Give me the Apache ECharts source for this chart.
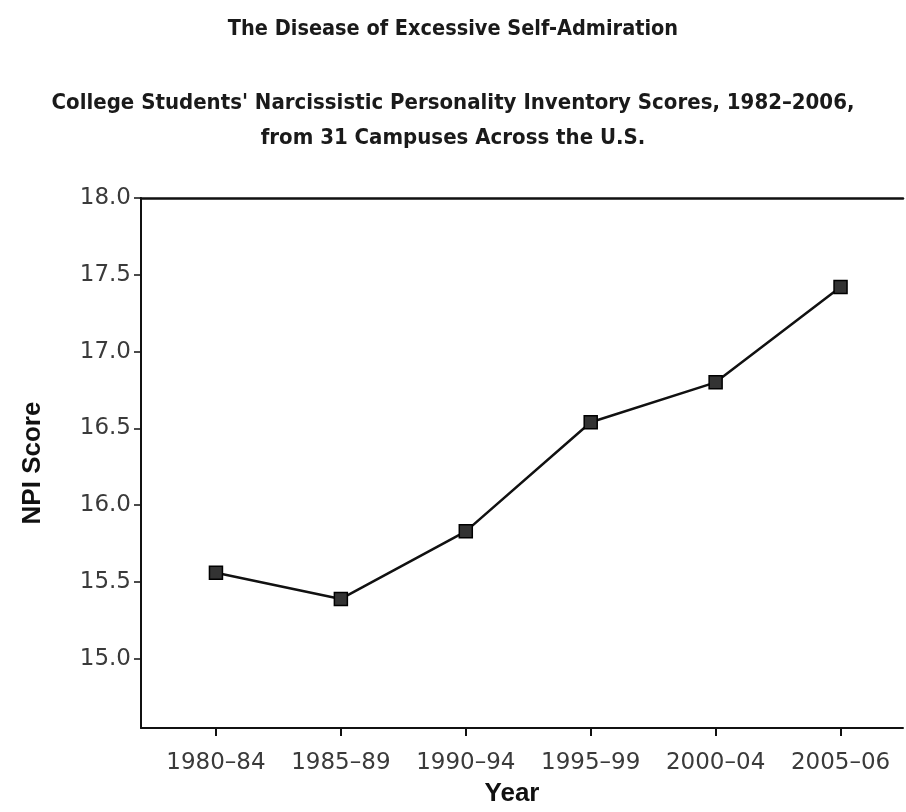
<!DOCTYPE html>
<html>
<head>
<meta charset="utf-8">
<script src="https://cdn.jsdelivr.net/npm/echarts@6/dist/echarts.min.js"></script>
<style>
html,body{margin:0;padding:0;background:#fff;}
#chart{width:906px;height:812px;}
</style>
</head>
<body>
<div id="chart"></div>
<script>
var categories = ['1980\u201384', '1985\u201389', '1990\u201394', '1995\u201399', '2000\u201304', '2005\u201306'];
var npiScores = [15.56, 15.39, 15.83, 16.54, 16.80, 17.42];
var yTickValues = [15.0, 15.5, 16.0, 16.5, 17.0, 17.5, 18.0];
var xTickValues = [0, 1, 2, 3, 4, 5];
var titleText = 'The Disease of Excessive Self-Admiration';
var subtitleLines = ["College Students' Narcissistic Personality Inventory Scores, 1982\u20132006,", 'from 31 Campuses Across the U.S.'];

var titleFont = '"Liberation Sans Narrow", "DejaVu Sans Condensed", "Roboto Condensed", "Liberation Sans", sans-serif';
var tickFont = '"DejaVu Sans", sans-serif';

var chart = echarts.init(document.getElementById('chart'), null, {renderer: 'canvas'});
var seriesData = npiScores.map(function (v, i) { return [i, v]; });

chart.setOption({
  backgroundColor: '#ffffff',
  animation: false,
  title: [
    {
      text: titleText,
      left: 'center', top: 13,
      textStyle: {fontFamily: titleFont, fontWeight: 'bold', fontSize: 21.5, color: '#1a1a1a'}
    },
    {
      text: subtitleLines[0],
      left: 'center', top: 87,
      textStyle: {fontFamily: titleFont, fontWeight: 'bold', fontSize: 22, color: '#1a1a1a'}
    },
    {
      text: subtitleLines[1],
      left: 'center', top: 122,
      textStyle: {fontFamily: titleFont, fontWeight: 'bold', fontSize: 22, color: '#1a1a1a'}
    }
  ],
  grid: {left: 141, top: 198, right: 3, bottom: 79, containLabel: false},
  xAxis: [
    {
      type: 'value', min: -0.6, max: 5.5,
      name: 'Year', nameLocation: 'middle', nameGap: 53,
      nameTextStyle: {fontFamily: '"Liberation Sans", Arial, sans-serif', fontWeight: 'bold', fontSize: 26, color: '#111', padding: [0, 20, 0, 0]},
      axisLine: {show: true, onZero: false, lineStyle: {color: '#111', width: 2}},
      axisTick: {show: true, length: 8, customValues: xTickValues, lineStyle: {color: '#111', width: 2}},
      axisLabel: {
        customValues: xTickValues, margin: 24,
        fontFamily: tickFont, fontSize: 23, color: '#3a3a3a',
        formatter: function (v) { return categories[Math.round(v)]; }
      },
      splitLine: {show: false}
    },
    {
      type: 'value', min: -0.6, max: 5.5, position: 'top',
      axisLine: {show: true, onZero: false, lineStyle: {color: '#111', width: 2.5}},
      axisTick: {show: false}, axisLabel: {show: false}, splitLine: {show: false}
    }
  ],
  yAxis: {
    type: 'value', min: 14.55, max: 18.0,
    name: 'NPI Score', nameLocation: 'middle', nameGap: 95, nameRotate: 90,
    nameTextStyle: {fontFamily: '"Liberation Sans", Arial, sans-serif', fontWeight: 'bold', fontSize: 26, color: '#111'},
    axisLine: {show: true, onZero: false, lineStyle: {color: '#111', width: 2}},
    axisTick: {show: true, length: 7, customValues: yTickValues, lineStyle: {color: '#111', width: 1.5}},
    axisLabel: {
      customValues: yTickValues, margin: 10,
      fontFamily: tickFont, fontSize: 23, color: '#3a3a3a',
      formatter: function (v) { return v.toFixed(1); }
    },
    splitLine: {show: false}
  },
  series: [{
    type: 'line',
    data: seriesData,
    symbol: 'rect',
    symbolSize: 13,
    lineStyle: {color: '#111', width: 2.5},
    itemStyle: {color: '#333', borderColor: '#000', borderWidth: 1.5},
    z: 3
  }]
});
</script>
</body>
</html>
